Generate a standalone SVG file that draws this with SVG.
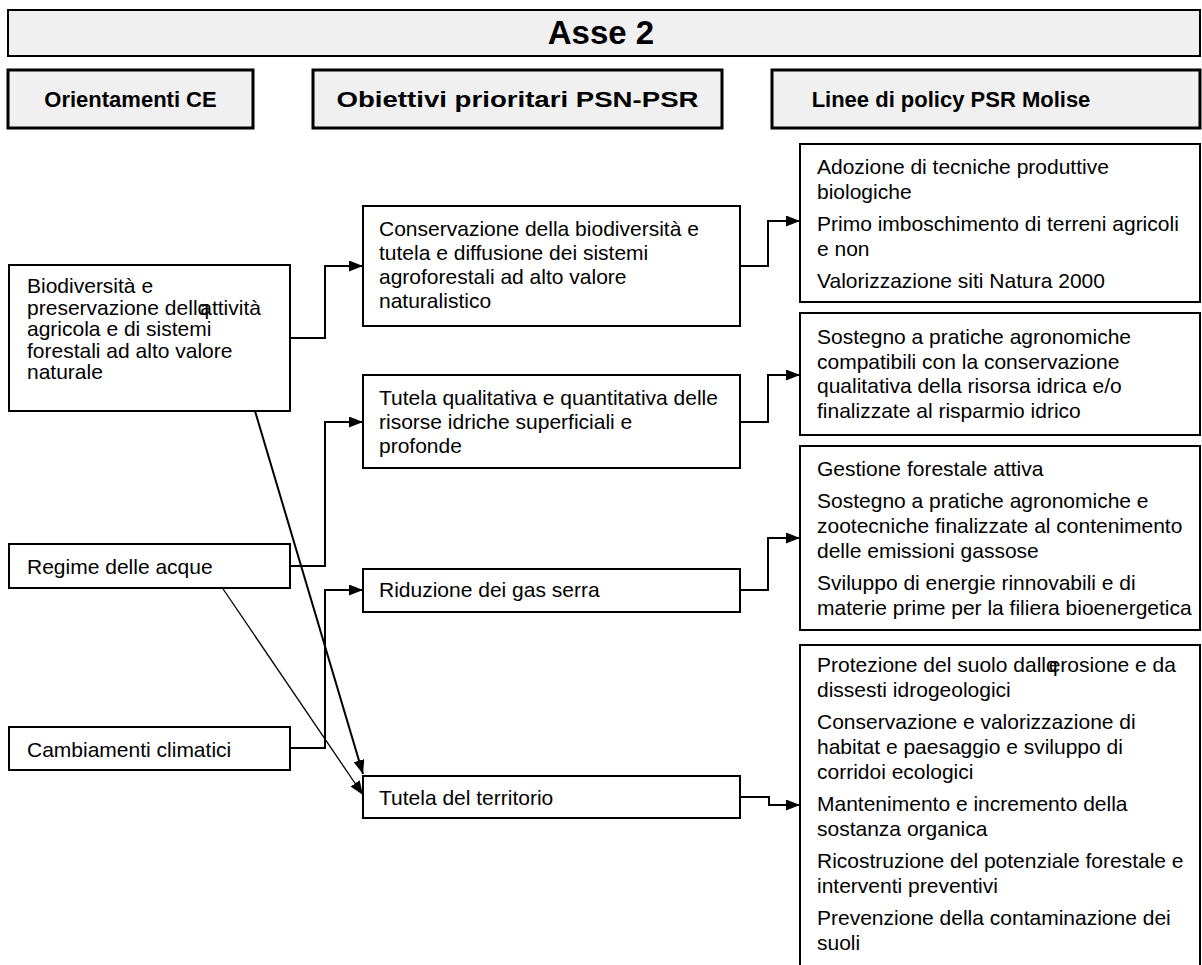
<svg xmlns="http://www.w3.org/2000/svg" width="1202" height="965" viewBox="0 0 1202 965">
<style>
text{font-family:"Liberation Sans",Arial,sans-serif;fill:#000}
.t{font-size:21px}
.h{font-size:22px;font-weight:bold;text-anchor:middle}
.title{font-size:33px;font-weight:bold;text-anchor:middle}
.hb{fill:#f0f0f0;stroke:#000;stroke-width:3}
.tb{fill:#f0f0f0;stroke:#000;stroke-width:2}
.b{fill:#fff;stroke:#000;stroke-width:2}
.c{fill:none;stroke:#000;stroke-width:2}
.thin{fill:none;stroke:#000;stroke-width:1.3}
</style>
<defs>
<marker id="ah" markerUnits="userSpaceOnUse" markerWidth="15" markerHeight="12" refX="14" refY="5.5" orient="auto">
<path d="M0,0 L14,5.5 L0,11 z" fill="#000"/>
</marker>
</defs>
<rect width="1202" height="965" fill="#fff"/>
<g id="asse2">
<rect class="tb" x="8" y="10" width="1192" height="46"/>
<text class="title" x="601" y="44">Asse 2</text>
</g>
<g id="hdr-orientamenti">
<rect class="hb" x="8" y="70" width="245" height="58"/>
<text class="h" x="130.5" y="107">Orientamenti CE</text>
</g>
<g id="hdr-obiettivi">
<rect class="hb" x="313" y="70" width="409" height="58"/>
<text class="h" x="517.5" y="107" textLength="362" lengthAdjust="spacingAndGlyphs">Obiettivi prioritari PSN-PSR</text>
</g>
<g id="hdr-linee">
<rect class="hb" x="772" y="70" width="428" height="58"/>
<text class="h" x="951" y="107">Linee di policy PSR Molise</text>
</g>

<g id="connectors">
<path class="c" d="M290,338 H325 V266 H363" marker-end="url(#ah)"/>
<path class="c" d="M290,566 H325 V422 H363" marker-end="url(#ah)"/>
<path class="c" d="M290,748 H325 V590 H363" marker-end="url(#ah)"/>
<path class="c" d="M255,411 L363,774" marker-end="url(#ah)"/>
<path class="thin" d="M217,580 L363,795" marker-end="url(#ah)"/>
<path class="c" d="M740,266 H768 V221 H800" marker-end="url(#ah)"/>
<path class="c" d="M740,422 H768 V375 H800" marker-end="url(#ah)"/>
<path class="c" d="M740,590 H768 V538 H800" marker-end="url(#ah)"/>
<path class="c" d="M740,797 H769 V805 H800" marker-end="url(#ah)"/>
</g>

<g id="biodiversita">
<rect class="b" x="9" y="265" width="281" height="146"/>
<text class="t" x="27" y="293">Biodiversità e</text>
<text class="t" x="27" y="314.5" dx="0 0 0 0 0 0 0 0 0 0 0 0 0 0 0 0 0 0 0 -9">preservazione dellqattività</text>
<text class="t" x="27" y="336">agricola e di sistemi</text>
<text class="t" x="27" y="357.5">forestali ad alto valore</text>
<text class="t" x="27" y="379">naturale</text>
</g>
<g id="regime">
<rect class="b" x="9" y="544" width="281" height="44"/>
<text class="t" x="27" y="574">Regime delle acque</text>
</g>
<g id="cambiamenti">
<rect class="b" x="9" y="727" width="281" height="43"/>
<text class="t" x="27" y="757">Cambiamenti climatici</text>
</g>

<g id="conservazione">
<rect class="b" x="363" y="206" width="377" height="120"/>
<text class="t" x="379" y="236">Conservazione della biodiversità e</text>
<text class="t" x="379" y="260">tutela e diffusione dei sistemi</text>
<text class="t" x="379" y="284">agroforestali ad alto valore</text>
<text class="t" x="379" y="308">naturalistico</text>
</g>
<g id="tutela-risorse">
<rect class="b" x="363" y="375" width="377" height="93"/>
<text class="t" x="379" y="405">Tutela qualitativa e quantitativa delle</text>
<text class="t" x="379" y="429">risorse idriche superficiali e</text>
<text class="t" x="379" y="453">profonde</text>
</g>
<g id="riduzione">
<rect class="b" x="363" y="569" width="377" height="43"/>
<text class="t" x="379" y="597">Riduzione dei gas serra</text>
</g>
<g id="tutela-territorio">
<rect class="b" x="363" y="776" width="377" height="42"/>
<text class="t" x="379" y="805">Tutela del territorio</text>
</g>

<g id="policy-1">
<rect class="b" x="800" y="144" width="400" height="158"/>
<text class="t" x="817" y="174">Adozione di tecniche produttive</text>
<text class="t" x="817" y="199">biologiche</text>
<text class="t" x="817" y="231">Primo imboschimento di terreni agricoli</text>
<text class="t" x="817" y="256">e non</text>
<text class="t" x="817" y="288">Valorizzazione siti Natura 2000</text>
</g>
<g id="policy-2">
<rect class="b" x="800" y="313" width="400" height="122"/>
<text class="t" x="817" y="344">Sostegno a pratiche agronomiche</text>
<text class="t" x="817" y="368.5">compatibili con la conservazione</text>
<text class="t" x="817" y="393">qualitativa della risorsa idrica e/o</text>
<text class="t" x="817" y="417.5">finalizzate al risparmio idrico</text>
</g>
<g id="policy-3">
<rect class="b" x="800" y="446" width="400" height="184"/>
<text class="t" x="817" y="476">Gestione forestale attiva</text>
<text class="t" x="817" y="508">Sostegno a pratiche agronomiche e</text>
<text class="t" x="817" y="533">zootecniche finalizzate al contenimento</text>
<text class="t" x="817" y="558">delle emissioni gassose</text>
<text class="t" x="817" y="590">Sviluppo di energie rinnovabili e di</text>
<text class="t" x="817" y="615">materie prime per la filiera bioenergetica</text>
</g>
<g id="policy-4">
<rect class="b" x="800" y="645" width="400" height="345"/>
<text class="t" x="817" y="672" dx="0 0 0 0 0 0 0 0 0 0 0 0 0 0 0 0 0 0 0 0 0 0 0 0 0 0 -9">Protezione del suolo dallqerosione e da</text>
<text class="t" x="817" y="697">dissesti idrogeologici</text>
<text class="t" x="817" y="729">Conservazione e valorizzazione di</text>
<text class="t" x="817" y="754">habitat e paesaggio e sviluppo di</text>
<text class="t" x="817" y="779">corridoi ecologici</text>
<text class="t" x="817" y="811">Mantenimento e incremento della</text>
<text class="t" x="817" y="836">sostanza organica</text>
<text class="t" x="817" y="868">Ricostruzione del potenziale forestale e</text>
<text class="t" x="817" y="893">interventi preventivi</text>
<text class="t" x="817" y="925">Prevenzione della contaminazione dei</text>
<text class="t" x="817" y="950">suoli</text>
</g>
</svg>
